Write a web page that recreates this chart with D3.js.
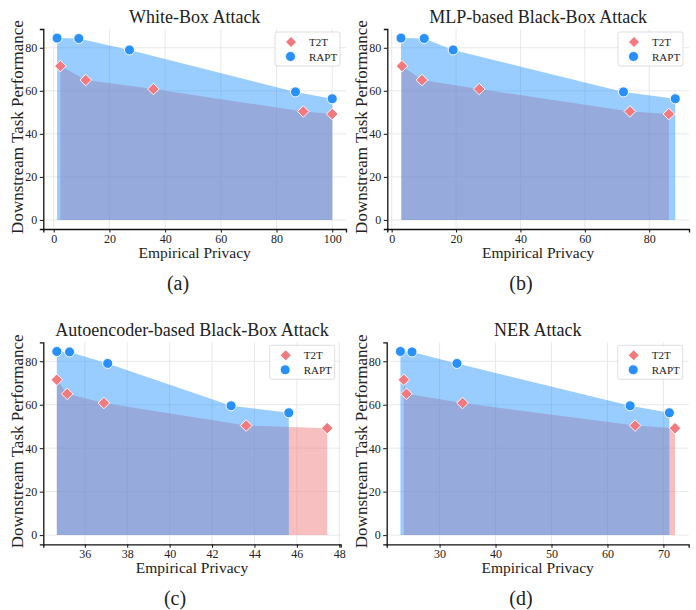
<!DOCTYPE html>
<html>
<head>
<meta charset="utf-8">
<script src="https://cdn.jsdelivr.net/npm/d3@7"></script>
<style>
  body { margin: 0; background: #fff; }
  svg text { font-family: "Liberation Serif", "DejaVu Serif", serif; fill: #222; }
</style>
</head>
<body>
<svg id="svg" width="696" height="610"></svg>
<script>
// downstream task performance, same for each attack
var perfT2T  = [71.5, 65.0, 60.8, 50.4, 49.2];
var perfRAPT = [84.5, 84.3, 79.0, 59.5, 56.3];

// empirical privacy per attack
var privT2T_white  = [2.4, 11.5, 35.8, 89.6, 100];
var privRAPT_white = [1.2, 9.0, 27.2, 86.8, 100];
var privT2T_mlp    = [3.2, 9.4, 27.2, 74.0, 86.1];
var privRAPT_mlp   = [2.9, 10.1, 19.1, 72.0, 88.1];
var privT2T_ae     = [34.68, 35.17, 36.9, 43.61, 47.43];
var privRAPT_ae    = [34.68, 35.28, 37.08, 42.9, 45.62];
var privT2T_ner    = [23.6, 24.07, 34.1, 64.95, 72.07];
var privRAPT_ner   = [23.0, 25.07, 33.1, 64.06, 71.07];

var titles   = ["White-Box Attack", "MLP-based Black-Box Attack", "Autoencoder-based Black-Box Attack", "NER Attack"];
var captions = ["(a)", "(b)", "(c)", "(d)"];
var series   = ["T2T", "RAPT"];
var yTicks   = [0, 20, 40, 60, 80];
var xTicks_white = [0, 20, 40, 60, 80, 100];
var xTicks_mlp   = [0, 20, 40, 60, 80];
var xTicks_ae    = [36, 38, 40, 42, 44, 46, 48];
var xTicks_ner   = [30, 40, 50, 60, 70];

var svg = d3.select("#svg");

var panels = [
	{t2t: privT2T_white, rapt: privRAPT_white, ticks: xTicks_white, box: {l: 43.3, r: 346, t: 29, b: 229}, cap: 178},
	{t2t: privT2T_mlp,   rapt: privRAPT_mlp,   ticks: xTicks_mlp,   box: {l: 387.3, r: 689, t: 29, b: 229}, cap: 521},
	{t2t: privT2T_ae,    rapt: privRAPT_ae,    ticks: xTicks_ae,    box: {l: 43.3, r: 340.7, t: 342.3, b: 544.3}, cap: 175},
	{t2t: privT2T_ner,   rapt: privRAPT_ner,   ticks: xTicks_ner,   box: {l: 386.7, r: 688.7, t: 342.3, b: 544.3}, cap: 521}
];

var red = "#F08080", blue = "#1E90FF";
var redMark = "#F27A7E", blueMark = "#2790FA";

function padded(lo, hi){
	var p = (hi - lo) * 0.05;
	return [lo - p, hi + p];
}

function diamond(g, x, y, s){
	g.append("path")
		.attr("d", "M" + x + "," + (y - s) + "L" + (x + s) + "," + y + "L" + x + "," + (y + s) + "L" + (x - s) + "," + y + "Z")
		.attr("fill", redMark).attr("stroke", "#fff").attr("stroke-width", 0.9);
}

function dot(g, x, y, r){
	g.append("circle").attr("cx", x).attr("cy", y).attr("r", r)
		.attr("fill", blueMark).attr("stroke", "#fff").attr("stroke-width", 0.9);
}

panels.forEach(function(p, i){
	var b = p.box;
	var allX = p.t2t.concat(p.rapt);
	var x = d3.scaleLinear().domain(padded(d3.min(allX), d3.max(allX))).range([b.l, b.r]);
	var y = d3.scaleLinear().domain(padded(0, d3.max(perfRAPT))).range([b.b, b.t]);
	var g = svg.append("g");
	var ticks = p.ticks.filter(function(v){ return x(v) <= b.r + 0.5; });

	// grid
	g.selectAll(".gx").data(ticks).enter().append("line")
		.attr("x1", function(d){ return x(d); }).attr("x2", function(d){ return x(d); })
		.attr("y1", b.t).attr("y2", b.b).attr("stroke", "#e3e3e3").attr("stroke-width", 0.8);
	g.selectAll(".gy").data(yTicks).enter().append("line")
		.attr("x1", b.l).attr("x2", b.r)
		.attr("y1", function(d){ return y(d); }).attr("y2", function(d){ return y(d); })
		.attr("stroke", "#e3e3e3").attr("stroke-width", 0.8);

	// fills
	var area = d3.area().x(function(d){ return x(d[0]); }).y0(y(0)).y1(function(d){ return y(d[1]); });
	g.append("path").datum(d3.zip(p.t2t, perfT2T)).attr("d", area).attr("fill", red).attr("fill-opacity", 0.5);
	g.append("path").datum(d3.zip(p.rapt, perfRAPT)).attr("d", area).attr("fill", blue).attr("fill-opacity", 0.45);

	// markers
	p.t2t.forEach(function(v, j){ diamond(g, x(v), y(perfT2T[j]), 5.8); });
	p.rapt.forEach(function(v, j){ dot(g, x(v), y(perfRAPT[j]), 5); });

	// axes
	var xAxis = d3.axisBottom(x).tickValues(ticks).tickSize(3.5).tickPadding(1.5).tickFormat(d3.format("d"));
	var yAxis = d3.axisLeft(y).tickValues(yTicks).tickSize(3.5).tickPadding(2.5);
	var ax = g.append("g").attr("transform", "translate(0," + b.b + ")").call(xAxis);
	var ay = g.append("g").attr("transform", "translate(" + b.l + ",0)").call(yAxis);
	[ax, ay].forEach(function(a){
		a.select(".domain").attr("stroke", "#111").attr("stroke-width", 1.3);
		a.selectAll(".tick line").attr("stroke", "#111").attr("stroke-width", 1);
		a.selectAll(".tick text").attr("font-size", 12).attr("fill", "#222");
	});

	// labels
	g.append("text").attr("x", (b.l + b.r) / 2).attr("y", b.t - 6).attr("text-anchor", "middle")
		.attr("font-size", 18).text(titles[i]);
	g.append("text").attr("x", (b.l + b.r) / 2).attr("y", b.b + 29).attr("text-anchor", "middle")
		.attr("font-size", 15.5).text("Empirical Privacy");
	g.append("text").attr("transform", "translate(" + (b.l - 20) + "," + ((b.t + b.b) / 2 - 2) + ") rotate(-90)")
		.attr("text-anchor", "middle").attr("font-size", 17).text("Downstream Task Performance");
	g.append("text").attr("x", p.cap).attr("y", b.b + 61).attr("text-anchor", "middle")
		.attr("font-size", 20).text(captions[i]);

	// legend
	var lx = b.r - 71, ly = b.t + 3;
	g.append("rect").attr("x", lx).attr("y", ly).attr("width", 65).attr("height", 34).attr("rx", 2)
		.attr("fill", "#fff").attr("fill-opacity", 0.85).attr("stroke", "#d5d5d5").attr("stroke-width", 0.8);
	diamond(g, lx + 16, ly + 10, 5.5);
	dot(g, lx + 15.5, ly + 24.5, 5);
	series.forEach(function(s, k){
		g.append("text").attr("x", lx + 34).attr("y", ly + 14 + k * 14.5).attr("font-size", 11).text(s);
	});
});
</script>
</body>
</html>
